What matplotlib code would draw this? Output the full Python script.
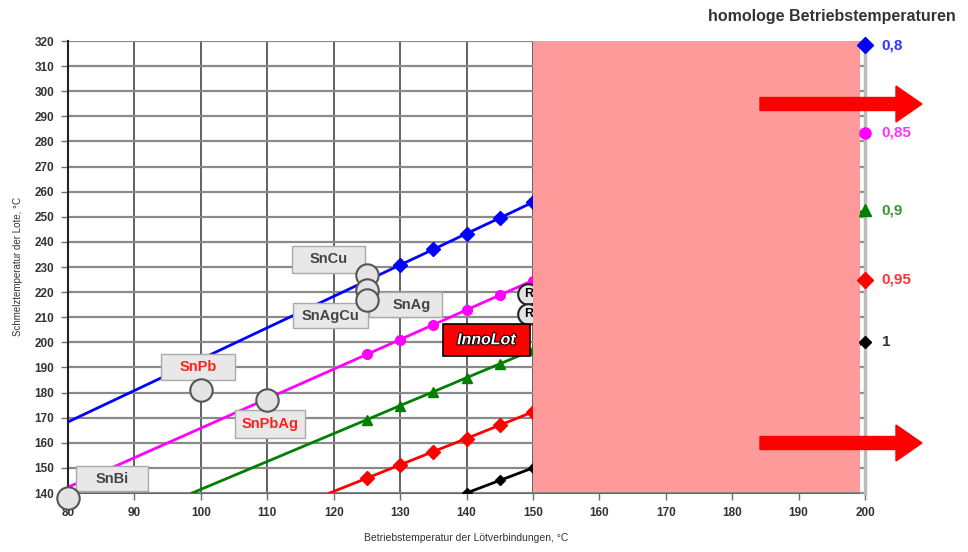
import matplotlib
matplotlib.use("Agg")
import matplotlib.pyplot as plt
from matplotlib.patches import Rectangle, FancyArrow
import matplotlib.patheffects as pe

plt.rcParams['font.family'] = ['Liberation Sans', 'DejaVu Sans']

# homologe Betriebstemperatur-Linien (Betriebstemperatur -> Schmelztemperatur)
h_labels = ['0,8', '0,85', '0,9', '0,95', '1']
h_colors = ['#0000FF', '#FF00FF', '#008000', '#FF0000', '#000000']
h_markers = ['D', 'o', '^', 'D', 'D']

x_08 = [80, 130, 135, 140, 145, 150, 200]
y_08 = [168.3, 230.8, 237.0, 243.3, 249.5, 255.8, 318.3]
x_085 = [80, 125, 130, 135, 140, 145, 150, 200]
y_085 = [142.3, 195.2, 201.1, 207.0, 212.9, 218.8, 224.6, 283.5]
x_09 = [98.7, 125, 130, 135, 140, 145, 150, 200]
y_09 = [140.0, 169.2, 174.8, 180.3, 185.9, 191.4, 197.0, 252.6]
x_095 = [119.4, 125, 130, 135, 140, 145, 150, 200]
y_095 = [140.0, 145.9, 151.2, 156.5, 161.7, 167.0, 172.3, 224.9]
x_1 = [140, 145, 150, 200]
y_1 = [140.0, 145.0, 150.0, 200.0]

# Lote
solders = ['SnCu', 'SnAg', 'SnAgCu', 'SnPb', 'SnPbAg', 'SnBi']
solder_x = [125, 125, 125, 100, 110, 80]
solder_y = [227, 221, 217, 181, 177, 138]
solder_colors = ['#444444', '#444444', '#444444', '#FF2020', '#FF2020', '#444444']
# Beschriftungsfelder (Mitte x, Mitte y, Breite, Höhe) in Achsenwerten
label_boxes = [(119.2, 233.0, 11.0, 10.4), (130.8, 215.0, 11.1, 10.0), (119.5, 210.6, 11.3, 10.0),
               (99.6, 190.3, 11.1, 10.4), (110.4, 167.5, 10.5, 10.8), (86.6, 145.6, 10.8, 10.0)]
r_x = [149.3, 149.3]
r_y = [219.4, 211.4]

fig = plt.figure(figsize=(9.68, 5.52), dpi=100)
ax = fig.add_axes([68/968, 59/552, 797/968, 452/552])

series = [(x_08, y_08), (x_085, y_085), (x_09, y_09), (x_095, y_095), (x_1, y_1)]
for (xs, ys), c, m in zip(series, h_colors, h_markers):
    if c == '#000000':
        ax.plot(xs, ys, color=c, lw=2, marker=m, ms=5, markevery=[0, 1, 2], zorder=3)
    else:
        ax.plot(xs, ys, color=c, lw=2, marker=m, ms=7, markevery=list(range(1, len(xs) - 1)), zorder=3)

ax.set_xlim(80, 200)
ax.set_ylim(140, 320)
ax.set_xticks(range(80, 201, 10))
ax.set_yticks(range(140, 321, 10))
ax.xaxis.grid(True, color='#555555', lw=1.3, zorder=1)
ax.yaxis.grid(True, color='#8A8A8A', lw=1.6, zorder=1)
ax.set_axisbelow(True)
ax.tick_params(axis='both', length=5, width=1, color='#707070', labelsize=8.5, pad=5)
for lab in ax.get_xticklabels() + ax.get_yticklabels():
    lab.set_fontweight('bold')
    lab.set_color('#333333')
for s in ['top', 'right']:
    ax.spines[s].set_visible(False)
ax.spines['left'].set_color('#222222')
ax.spines['bottom'].set_color('#666666')
ax.spines['left'].set_linewidth(1.5)

# rechte Achse
ax2 = ax.twinx()
ax2.set_ylim(140, 320)
ax2.set_yticks(range(140, 321, 10))
ax2.set_yticklabels([])
ax2.tick_params(axis='y', direction='in', length=4, color='#999999')
for s in ['top', 'left', 'bottom']:
    ax2.spines[s].set_visible(False)
ax2.spines['right'].set_color('#BBBBBB')
ax2.spines['right'].set_linewidth(2.5)

# Lote: Beschriftungen
for name, c, (bx, by, bw, bh) in zip(solders, solder_colors, label_boxes):
    ax.add_patch(Rectangle((bx - bw / 2, by - bh / 2), bw, bh, facecolor='#E8E8E8', edgecolor='#AAAAAA',
                           lw=1, zorder=6))
    tx = bx + 1 if name == 'SnAg' else bx
    ax.text(tx, by, name, ha='center', va='center', fontsize=10.5, fontweight='bold', color=c, zorder=6.5)

# Lote: Kreise
ax.scatter(solder_x, solder_y, s=260, facecolor='#E4E4E4', edgecolor='#555555', lw=1.5, zorder=7, clip_on=False)
ax.scatter(r_x, r_y, s=220, facecolor='#E4E4E4', edgecolor='#222222', lw=1.5, zorder=5)
for rx, ry in zip(r_x, r_y):
    ax.text(rx, ry, 'R', ha='center', va='center', fontsize=9, fontweight='bold', zorder=6)

ax.add_patch(Rectangle((143.0 - 6.5, 201.0 - 6.4), 13.0, 12.8, facecolor='#FF0000', edgecolor='#000000',
                       lw=1.2, zorder=6))
ax.text(143.0, 201.0, 'InnoLot', ha='center', va='center', fontsize=11.5, fontweight='bold', style='italic',
        color='white', zorder=7, path_effects=[pe.withStroke(linewidth=1.5, foreground='black')])

# rosa Abdeckung
ax.add_patch(Rectangle((150, 140.5), 49.3, 179.5, facecolor='#FF9A9A', edgecolor='none', zorder=8))

# Endpunkte rechts
for (xs, ys), c, m, lab in zip(series, h_colors, h_markers, h_labels):
    ms = 6 if c == '#000000' else 8
    ax2.plot(xs[-1], ys[-1], marker=m, color=c, ms=ms, zorder=9, clip_on=False)
    ax2.annotate(lab, (xs[-1], ys[-1]), xytext=(12, 0), textcoords='offset points', va='center',
                 fontsize=11, fontweight='bold', color=c, alpha=0.8, annotation_clip=False, zorder=9)

ax.set_xlabel('Betriebstemperatur der Lötverbindungen, °C', fontsize=7.5, color='#333333', labelpad=10)
ax.set_ylabel('Schmelztemperatur der Lote, °C', fontsize=7, color='#333333', labelpad=8)
fig.text(832/968, 1 - 17/552, 'homologe Betriebstemperaturen', ha='center', va='center',
         fontsize=11.5, fontweight='bold', color='#333333')

# rote Pfeile
for yp in [104, 443]:
    fig.add_artist(FancyArrow(7.60, (552 - yp) / 100, 1.62, 0, width=0.13, head_width=0.36, head_length=0.26,
                              length_includes_head=True, color='#FF0000', transform=fig.dpi_scale_trans))

fig.savefig('out.png', dpi=100)
